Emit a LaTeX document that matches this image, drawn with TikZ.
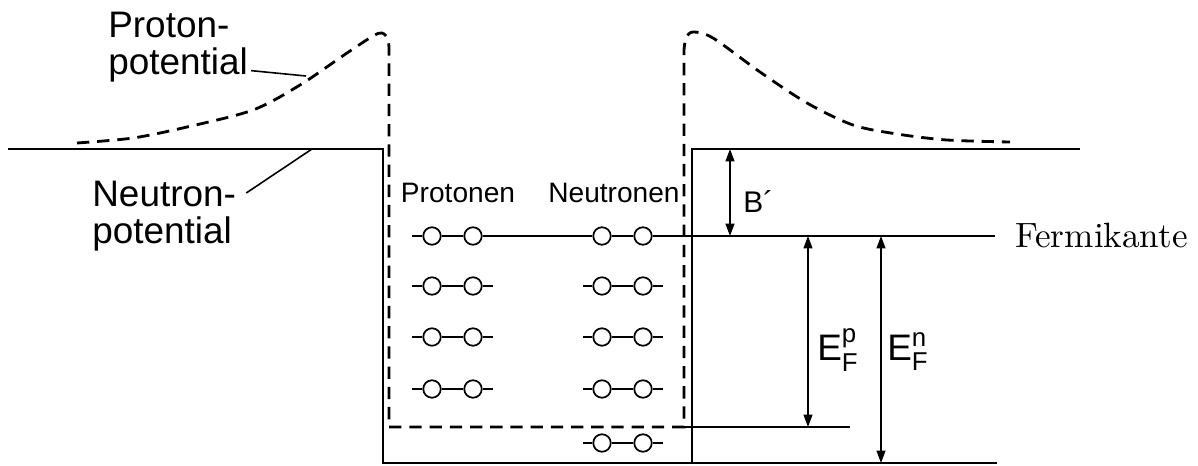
\documentclass[tikz,border=0pt]{standalone}
\usepackage{amsmath}
\usepackage{fontspec}
\newfontfamily\helv{Liberation Sans}
\newfontfamily\lmten{lmroman10-regular.otf}
\usetikzlibrary{arrows.meta}

\begin{document}
\begin{tikzpicture}[
    x=0.02cm, y=-0.02cm,
    >={Triangle[length=7pt, width=5pt]},
    npot/.style  = {line width=1.1pt, black},
    ppot/.style  = {line width=1.6pt, black, dash pattern=on 7pt off 4.5pt},
    level/.style = {line width=0.9pt, black},
    orb/.style   = {circle, draw, line width=1pt, fill=white,
                    minimum size=0.35cm, inner sep=0pt},
    dim/.style   = {line width=0.9pt, <->},
    lead/.style  = {line width=0.9pt},
    big/.style   = {font=\helv\fontsize{21}{21}\selectfont, align=left,
                    inner sep=0pt},
    small/.style = {font=\helv\fontsize{16}{16}\selectfont, inner sep=0pt},
  ]
  \useasboundingbox (0,0) rectangle (1198,466);

  % --- neutron potential: square well ---------------------------------------
  \draw[npot] (8,149) -- (383,149) -- (383,463) -- (997,463);
  \draw[npot] (692,463) -- (692,149) -- (1080,149);

  % --- proton potential: well with coulomb barrier ------------------------
  \draw[ppot] plot[smooth] coordinates {(77,143) (133,138) (187,127)
      (253,110) (300,85) (347,53) (373,36) (382,33) (388,39) (389,50)}
    -- (389,427) -- (684,427) -- (684,50)
    -- plot[smooth] coordinates {(684,50) (686,38) (693,32) (713,38)
      (760,72) (807,103) (853,125) (897,134) (947,140) (1010,142)};

  % --- labels of the two potentials ---------------------------------------
  \node[big, anchor=north west] (ptext) at (108,12) {Proton-\\potential};
  \coordinate (pcurve) at (306,76);
  \draw[lead] ([shift={(3,-12)}]ptext.south east) -- (pcurve);

  \node[big, anchor=north west] (ntext) at (92,181) {Neutron-\\potential};
  \coordinate (nwell) at (312,149);
  \draw[lead] ([shift={(10,12)}]ntext.north east) -- (nwell);

  \node[small, anchor=base] (prot) at (458,203) {Protonen};
  \node[small, anchor=base] (neut) at (614,203) {Neutronen};

  % --- occupied levels ----------------------------------------------------
  \node[orb] (p1-a) at (432,236) {};
  \node[orb] (p1-b) at (473,236) {};
  \node[orb] (n1-a) at (602,236) {};
  \node[orb] (n1-b) at (643,236) {};
  \coordinate (fl) at (412,236);
  \coordinate (fr) at (995,236);
  \draw[level] (fl) -- (p1-a) -- (p1-b) -- (n1-a) -- (n1-b) -- (fr);
  \node[anchor=west, inner sep=0pt, font=\lmten\fontsize{20}{20}\selectfont]
    (fermi) at (1015,236) {Fermikante};

  \foreach \y [count=\i from 2] in {286, 337, 389} {
    \node[orb] (p\i-a) at (432,\y) {};
    \node[orb] (p\i-b) at (473,\y) {};
    \coordinate (p\i-l) at (412,\y);
    \coordinate (p\i-r) at (493,\y);
    \draw[level] (p\i-l) -- (p\i-a) -- (p\i-b) -- (p\i-r);
  }
  \foreach \y [count=\i from 2] in {286, 337, 389, 443} {
    \node[orb] (n\i-a) at (602,\y) {};
    \node[orb] (n\i-b) at (643,\y) {};
    \coordinate (n\i-l) at (583,\y);
    \coordinate (n\i-r) at (663,\y);
    \draw[level] (n\i-l) -- (n\i-a) -- (n\i-b) -- (n\i-r);
  }

  % --- lowest proton level and the energies -------------------------------
  \coordinate (pbl) at (684,427);
  \coordinate (pbr) at (850,427);
  \draw[level] (pbl) -- (pbr);

  \coordinate (bt) at (730,149);
  \coordinate (bb) at (730,236);
  \draw[dim] (bt) -- (bb);
  \node[anchor=base west, inner sep=0pt, font=\helv\fontsize{17}{17}\selectfont]
    (bl) at (743,213) {B´};

  \coordinate (ept) at (808,236);
  \coordinate (epb) at (808,427);
  \draw[dim] (ept) -- (epb);
  \node[anchor=base west, inner sep=0pt, font=\helv\fontsize{21}{21}\selectfont]
    (epl) at (817,360) {E$_{\text{F}}^{\text{p}}$};

  \coordinate (ent) at (881,236);
  \coordinate (enb) at (881,463);
  \draw[dim] (ent) -- (enb);
  \node[anchor=base west, inner sep=0pt, font=\helv\fontsize{21}{21}\selectfont]
    (enl) at (887,360) {E$_{\text{F}}^{\text{n}}$};

\end{tikzpicture}
\end{document}
